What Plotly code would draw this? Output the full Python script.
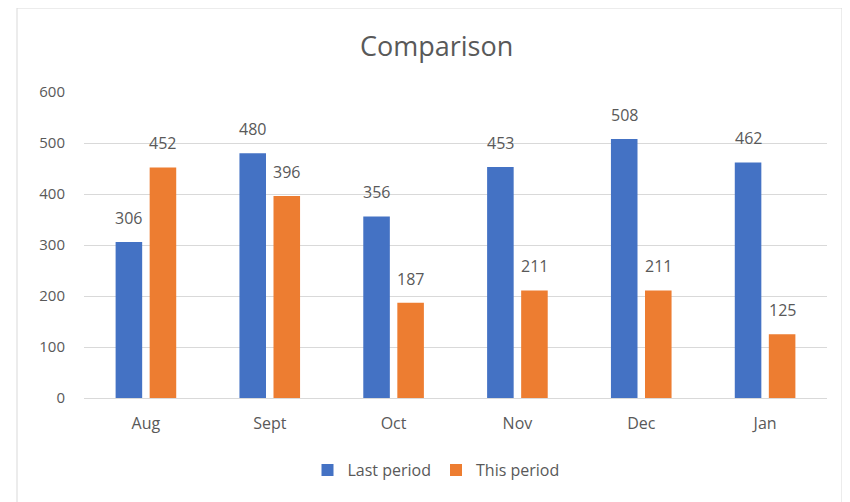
import plotly.graph_objects as go

categories = ["Aug", "Sept", "Oct", "Nov", "Dec", "Jan"]
last_period = [306, 480, 356, 453, 508, 462]
this_period = [452, 396, 187, 211, 211, 125]
y_ticks = [0, 100, 200, 300, 400, 500, 600]

BLUE = "#4472C4"
ORANGE = "#ED7D31"
GREY = "#595959"
FONT = "Open Sans, Noto Sans, sans-serif"

# page has an 8px body margin -> work in figure coordinates = image px - 8
OFF = 8
W, H = 842, 494
L, R, T, B = 84 - OFF, W - (827 - OFF), 92 - OFF, H - (398 - OFF)
pw = W - L - R
ph = H - T - B


def px_x(p):
    return (p - OFF - L) / pw


def px_y(p):
    return (H - B - (p - OFF)) / ph


fig = go.Figure()
fig.add_trace(go.Bar(x=categories, y=last_period, name="Last period",
                     marker=dict(color=BLUE, line=dict(width=0))))
fig.add_trace(go.Bar(x=categories, y=this_period, name="This period",
                     marker=dict(color=ORANGE, line=dict(width=0))))

bargap, bargroupgap = 0.45, 0.22
slot_px = pw / len(categories) * (1 - bargap) / 2

annotations = []
for series, sign in ((last_period, -1), (this_period, 1)):
    for c, v in zip(categories, series):
        annotations.append(dict(x=c, y=v, xref="x", yref="y", text=str(v),
                                showarrow=False, xanchor="center",
                                yanchor="bottom", xshift=sign * slot_px / 2,
                                yshift=11,
                                font=dict(size=16, color=GREY, family=FONT)))
annotations.append(dict(text="Comparison", xref="paper", yref="paper",
                        x=px_x(436), y=px_y(45), xanchor="center",
                        yanchor="middle", showarrow=False,
                        font=dict(size=27, color=GREY, family=FONT)))

fig.update_layout(
    width=W, height=H,
    margin=dict(l=L, r=R, t=T, b=B, autoexpand=False),
    paper_bgcolor="white", plot_bgcolor="white",
    barmode="group", bargap=bargap, bargroupgap=bargroupgap,
    font=dict(family=FONT, color=GREY, size=14),
    showlegend=True,
    legend=dict(orientation="h", xref="paper", yref="paper",
                x=px_x(436), xanchor="center", y=px_y(470), yanchor="middle",
                font=dict(size=16, color=GREY, family=FONT),
                itemwidth=30, bgcolor="rgba(0,0,0,0)"),
    xaxis=dict(showgrid=False, showline=False, ticks="", zeroline=False,
               ticklabelstandoff=14,
               tickfont=dict(size=16, color=GREY, family=FONT)),
    yaxis=dict(range=[0, 600], tickvals=y_ticks, showgrid=True,
               gridcolor="#D9D9D9", gridwidth=1, zeroline=True,
               zerolinecolor="#D9D9D9", zerolinewidth=1, showline=False,
               ticks="", ticklabelstandoff=18,
               tickfont=dict(size=15, color=GREY, family=FONT)),
    shapes=[dict(type="rect", xref="paper", yref="paper",
                 x0=px_x(17), x1=px_x(842), y0=px_y(506), y1=px_y(8),
                 line=dict(color="#D9D9D9", width=1),
                 fillcolor="rgba(0,0,0,0)", layer="below")],
    annotations=annotations,
)

fig.write_html("out.html")
